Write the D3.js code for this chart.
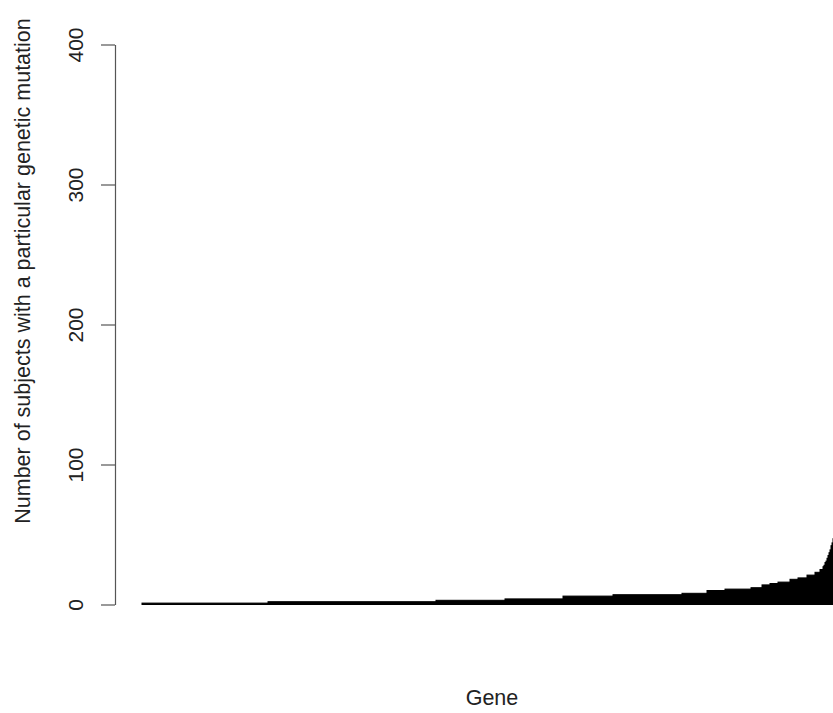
<!DOCTYPE html>
<html>
<head>
<meta charset="utf-8">
<script src="https://cdn.jsdelivr.net/npm/d3@7/dist/d3.min.js"></script>
<style>
  html, body { margin: 0; padding: 0; background: #fff; }
  svg { display: block; }
  text { font-family: "Liberation Sans", Arial, Helvetica, sans-serif; fill: #222; }
</style>
</head>
<body>
<svg id="chart" width="833" height="713"></svg>
<script>
// Genes sorted by how many subjects carry a mutation in them.
// Each step: the mutation count and how many genes share that count.
const mutationCounts = [1, 2, 3, 4, 6, 7, 8, 10, 11, 12, 14, 15, 16, 18, 19, 21, 23, 25,
                        27, 28, 30, 31, 33, 35, 37, 39, 42, 44, 47];
const genesPerCount  = [504, 672, 276, 232, 200, 276, 100, 72, 104, 44, 32, 32, 48, 32, 36, 32, 20, 12,
                        4, 4, 4, 4, 4, 4, 4, 4, 4, 4, 4];
const yTicks = [0, 100, 200, 300, 400];
const yTitle = "Number of subjects with a particular genetic mutation";
const xTitle = "Gene";

// cumulative gene positions for each step
let start = 0;
const steps = mutationCounts.map((v, i) => {
  const s = { value: v, start: start, end: start + genesPerCount[i] };
  start += genesPerCount[i];
  return s;
});
const totalGenes = start;

const svg = d3.select("#chart");

const x = d3.scaleLinear().domain([0, totalGenes]).range([142, 834]);
const y = d3.scaleLinear().domain([0, 400]).range([604.5, 44.5]);

// bars (filled black with a black border, as in a classic barplot)
svg.append("g")
  .selectAll("rect")
  .data(steps)
  .join("rect")
  .attr("x", d => x(d.start))
  .attr("width", d => x(d.end) - x(d.start))
  .attr("y", d => y(d.value))
  .attr("height", d => y(0) - y(d.value))
  .attr("fill", "#000")
  .attr("stroke", "#000")
  .attr("stroke-width", 1);

// y axis
const yAxis = d3.axisLeft(y)
  .tickValues(yTicks)
  .tickSize(14)
  .tickSizeOuter(0)
  .tickPadding(0);

const gy = svg.append("g")
  .attr("transform", "translate(115,0)")
  .call(yAxis);
gy.select(".domain").attr("stroke", "#555").attr("stroke-width", 1.2);
gy.selectAll(".tick line").attr("stroke", "#555").attr("stroke-width", 1.2);
gy.selectAll(".tick text")
  .attr("x", null)
  .attr("dy", null)
  .attr("text-anchor", "middle")
  .attr("dominant-baseline", "central")
  .attr("font-size", 21)
  .attr("fill", "#222")
  .attr("transform", "translate(-40,0) rotate(-90)");

// axis titles
svg.append("text")
  .attr("transform", "translate(23,271) rotate(-90)")
  .attr("text-anchor", "middle")
  .attr("dominant-baseline", "central")
  .attr("font-size", 21.5)
  .text(yTitle);

svg.append("text")
  .attr("x", 492)
  .attr("y", 705)
  .attr("text-anchor", "middle")
  .attr("font-size", 21.5)
  .text(xTitle);
</script>
</body>
</html>
